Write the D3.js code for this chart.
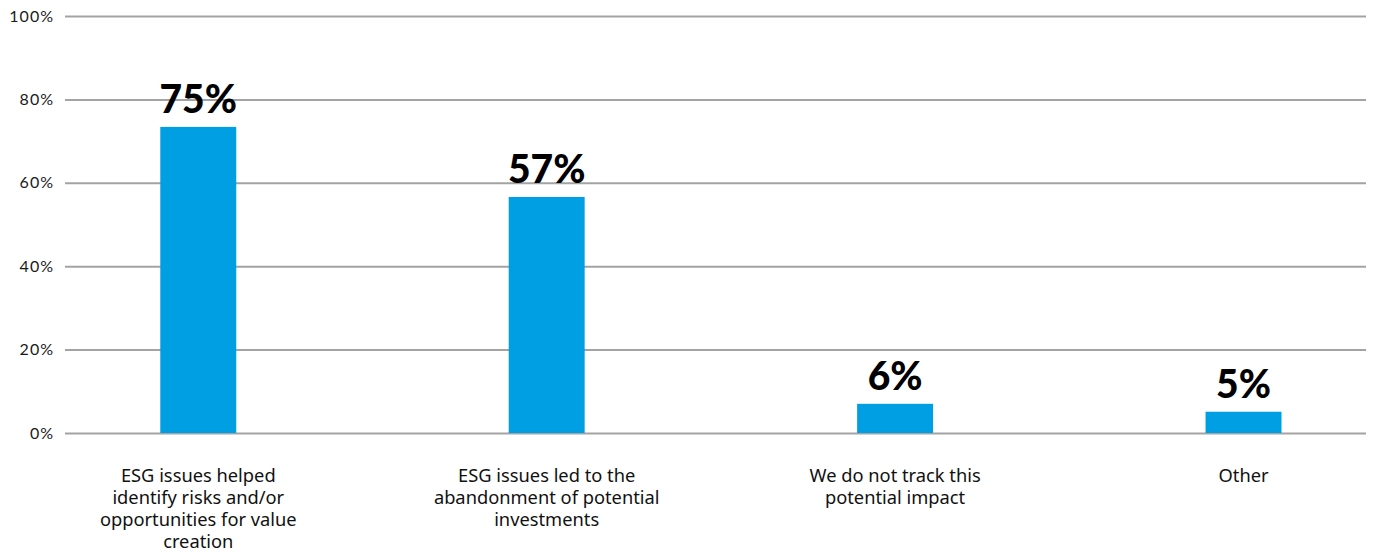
<!DOCTYPE html>
<html>
<head>
<meta charset="utf-8">
<script src="https://cdn.jsdelivr.net/npm/d3@7"></script>
<style>
  body { margin: 0; background: #fff; }
  svg { display: block; }
</style>
</head>
<body>
<div id="chart"></div>
<script>
// data
const categories = [
    ["ESG issues helped", "identify risks and/or", "opportunities for value", "creation"],
    ["ESG issues led to the", "abandonment of potential", "investments"],
    ["We do not track this", "potential impact"],
    ["Other"]
];
const barValues = [73.4, 56.6, 7.0, 5.1];
const valueLabels = ["75%", "57%", "6%", "5%"];
const yTicks = [0, 20, 40, 60, 80, 100];

const W = 1373, H = 553;
const margin = { top: 16, right: 7, bottom: 120, left: 65 };
const width = W - margin.left - margin.right,
    height = H - margin.top - margin.bottom;

const svg = d3.select("#chart")
    .append("svg")
    .attr("width", W)
    .attr("height", H)
    .append("g")
    .attr("transform", `translate(${margin.left},${margin.top})`);

const keys = categories.map((d, i) => "c" + i);

const x = d3.scaleBand()
    .domain(keys)
    .range([0, width])
    .paddingInner(0.782)
    .paddingOuter(0.258)
    .align(0.53);

const y = d3.scaleLinear()
    .domain([0, 100])
    .range([height, 0]);

// gridlines + tick labels
const yAxis = svg.append("g")
    .call(d3.axisLeft(y).tickValues(yTicks).tickSize(-width).tickFormat(d => d + "%"));
yAxis.select(".domain").remove();
yAxis.selectAll(".tick line")
    .attr("stroke", "#a3a3a3")
    .attr("stroke-width", 2);
yAxis.selectAll(".tick text")
    .attr("x", -11)
    .attr("dy", "0.32em")
    .style("font-family", "Lato, sans-serif")
    .style("font-size", "16px")
    .style("letter-spacing", "1px")
    .attr("fill", "#1a1a1a");

// bars
svg.selectAll("rect.bar")
    .data(barValues)
    .enter()
    .append("rect")
    .attr("class", "bar")
    .attr("x", (d, i) => x(keys[i]))
    .attr("y", d => y(d))
    .attr("width", x.bandwidth())
    .attr("height", d => y(0) - y(d))
    .attr("fill", "#009fe3");

// value labels
svg.selectAll("text.val")
    .data(barValues)
    .enter()
    .append("text")
    .attr("class", "val")
    .attr("x", (d, i) => x(keys[i]) + x.bandwidth() / 2)
    .attr("y", d => y(d) - 14)
    .attr("text-anchor", "middle")
    .style("font-family", "Lato, sans-serif")
    .style("font-weight", "900")
    .style("font-size", "39px")
    .attr("fill", "#000")
    .text((d, i) => valueLabels[i]);

// category labels
const cat = svg.selectAll("text.cat")
    .data(categories)
    .enter()
    .append("text")
    .attr("class", "cat")
    .attr("x", (d, i) => x(keys[i]) + x.bandwidth() / 2)
    .attr("y", height + 49)
    .attr("text-anchor", "middle")
    .style("font-family", "'Noto Sans', sans-serif")
    .style("font-size", "18.3px")
    .attr("fill", "#111");

cat.selectAll("tspan")
    .data(d => d)
    .enter()
    .append("tspan")
    .attr("x", function () { return this.parentNode.getAttribute("x"); })
    .attr("dy", (d, i) => i === 0 ? 0 : 22)
    .text(d => d);
</script>
</body>
</html>
